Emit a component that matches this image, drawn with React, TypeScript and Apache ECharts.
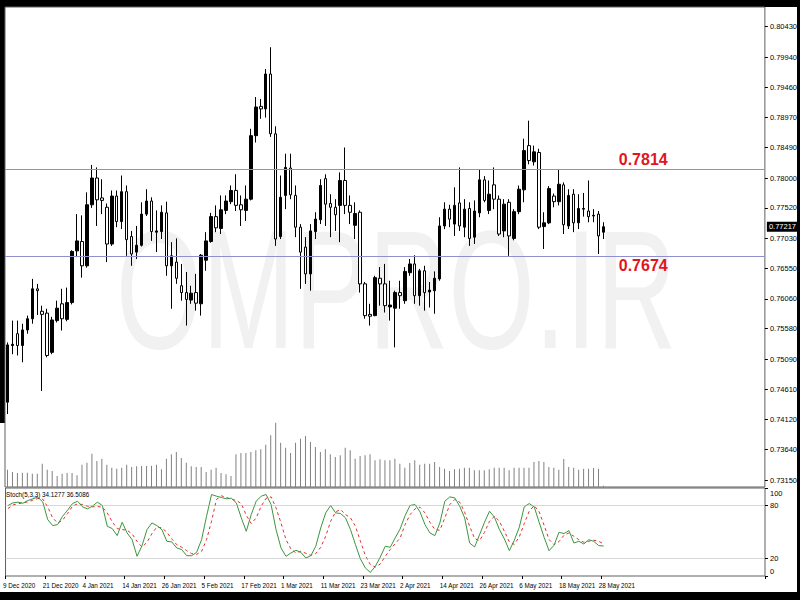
import React, { useEffect, useRef } from "react";
import * as echarts from "echarts";

const decDays = [9, 10, 11, 14, 15, 16, 17, 18, 21, 22, 23, 24, 28, 29, 30, 31];
const janDays = [4, 5, 6, 7, 8, 11, 12, 13, 14, 15, 18, 19, 20, 21, 22, 25, 26, 27, 28, 29];
const febDays = [1, 2, 3, 4, 5, 8, 9, 10, 11, 12, 15, 16, 17, 18, 19, 22, 23, 24, 25, 26];
const marDays = [1, 2, 3, 4, 5, 8, 9, 10, 11, 12, 15, 16, 17, 18, 19, 22, 23, 24, 25, 26, 29, 30, 31];
const aprDays = [1, 2, 5, 6, 7, 8, 9, 12, 13, 14, 15, 16, 19, 20, 21, 22, 23, 26, 27, 28, 29, 30];
const mayDays = [3, 4, 5, 6, 7, 10, 11, 12, 13, 14, 17, 18, 19, 20, 21, 24, 25, 26, 27, 28];

const dates: string[] = [
  ...decDays.map((d) => `${d} Dec 2020`),
  ...janDays.map((d) => `${d} Jan 2021`),
  ...febDays.map((d) => `${d} Feb 2021`),
  ...marDays.map((d) => `${d} Mar 2021`),
  ...aprDays.map((d) => `${d} Apr 2021`),
  ...mayDays.map((d) => `${d} May 2021`),
];

const open = [
  0.744, 0.7531, 0.755, 0.7531, 0.7556, 0.7574, 0.7622, 0.7586, 0.7583, 0.752,
  0.7571, 0.7598, 0.7573, 0.76, 0.7683, 0.7698, 0.7659, 0.7757, 0.78, 0.7768,
  0.7753, 0.7694, 0.7771, 0.773, 0.7778, 0.7706, 0.7681, 0.7692, 0.7742, 0.7763,
  0.7713, 0.7714, 0.7744, 0.7659, 0.7665, 0.7627, 0.7616, 0.7604, 0.7616, 0.7598,
  0.7668, 0.7698, 0.7738, 0.7719, 0.7748, 0.7762, 0.778, 0.7757, 0.7748, 0.7766,
  0.7868, 0.7915, 0.7911, 0.7967, 0.7871, 0.7706, 0.7772, 0.7816, 0.7772, 0.7721,
  0.7689, 0.7646, 0.7714, 0.7733, 0.7799, 0.7759, 0.7753, 0.7756, 0.7796, 0.7756,
  0.7724, 0.7745, 0.763, 0.7581, 0.7579, 0.7639, 0.763, 0.7593, 0.7591, 0.7616,
  0.7603, 0.7648, 0.7662, 0.7611, 0.7651, 0.7617, 0.7619, 0.7638, 0.7723, 0.775,
  0.7726, 0.776, 0.7721, 0.7751, 0.7705, 0.7744, 0.7797, 0.7748, 0.7789, 0.7766,
  0.7715, 0.7761, 0.7703, 0.7746, 0.7781, 0.7852, 0.7826, 0.7841, 0.7722, 0.7728,
  0.7771, 0.7762, 0.7789, 0.7723, 0.7774, 0.7728, 0.775, 0.7747, 0.7739, 0.7742,
  0.7713,
];
const high = [
  0.7536, 0.7571, 0.7571, 0.7566, 0.7579, 0.7638, 0.763, 0.7595, 0.759, 0.7577,
  0.7603, 0.7622, 0.7624, 0.7684, 0.7742, 0.774, 0.7777, 0.7821, 0.7817, 0.7798,
  0.7759, 0.778, 0.778, 0.7804, 0.7788, 0.7715, 0.7723, 0.7761, 0.7782, 0.7769,
  0.7748, 0.7756, 0.7762, 0.7697, 0.7703, 0.7662, 0.7649, 0.7627, 0.7646, 0.7678,
  0.7713, 0.7744, 0.7756, 0.7772, 0.7772, 0.7788, 0.7806, 0.7772, 0.7788, 0.7879,
  0.793, 0.7927, 0.7975, 0.801, 0.7883, 0.7804, 0.7839, 0.7839, 0.7788, 0.7726,
  0.7705, 0.7726, 0.7745, 0.7798, 0.7806, 0.7774, 0.7766, 0.7809, 0.7849, 0.7772,
  0.7761, 0.7748, 0.7633, 0.7598, 0.7643, 0.7657, 0.7662, 0.7635, 0.7619, 0.7635,
  0.7657, 0.767, 0.7676, 0.7654, 0.7659, 0.7633, 0.765, 0.7737, 0.7761, 0.7757,
  0.7785, 0.7817, 0.7766, 0.7761, 0.7764, 0.7814, 0.7803, 0.7796, 0.7817, 0.7772,
  0.7766, 0.7766, 0.775, 0.7788, 0.7863, 0.7892, 0.7852, 0.7847, 0.7745, 0.7787,
  0.7775, 0.7813, 0.7793, 0.7782, 0.7782, 0.7774, 0.7776, 0.7796, 0.775, 0.7747,
  0.7729,
];
const low = [
  0.7421, 0.7517, 0.7515, 0.7504, 0.755, 0.7566, 0.758, 0.7458, 0.7512, 0.7517,
  0.7568, 0.7555, 0.757, 0.7597, 0.7673, 0.764, 0.7656, 0.7752, 0.7723, 0.7742,
  0.7665, 0.7691, 0.7721, 0.7718, 0.7675, 0.7659, 0.767, 0.769, 0.7739, 0.7699,
  0.7681, 0.7702, 0.7643, 0.759, 0.763, 0.7603, 0.7563, 0.7598, 0.7587, 0.7579,
  0.7651, 0.7696, 0.7713, 0.771, 0.7742, 0.7758, 0.7747, 0.7723, 0.7731, 0.7764,
  0.7857, 0.7895, 0.7897, 0.7866, 0.7691, 0.7702, 0.775, 0.7766, 0.7705, 0.7622,
  0.763, 0.7619, 0.7702, 0.7726, 0.7723, 0.7705, 0.7715, 0.7697, 0.7742, 0.7726,
  0.7702, 0.7616, 0.7574, 0.7563, 0.7578, 0.7595, 0.7584, 0.7571, 0.7528, 0.759,
  0.7598, 0.7643, 0.7598, 0.7595, 0.7587, 0.7592, 0.7582, 0.7635, 0.7718, 0.7721,
  0.7707, 0.7715, 0.7705, 0.7691, 0.7694, 0.7737, 0.7761, 0.7742, 0.775, 0.7707,
  0.7705, 0.7675, 0.77, 0.7742, 0.7761, 0.7822, 0.782, 0.7718, 0.7686, 0.7726,
  0.7753, 0.7756, 0.771, 0.7718, 0.7713, 0.7718, 0.7738, 0.7729, 0.7729, 0.7678,
  0.7702,
];
const close = [
  0.7532, 0.7533, 0.7531, 0.7556, 0.7574, 0.7622, 0.7619, 0.7581, 0.7515, 0.7572,
  0.7591, 0.7574, 0.76, 0.7682, 0.7699, 0.7659, 0.7757, 0.78, 0.7765, 0.7764,
  0.7694, 0.7771, 0.773, 0.7778, 0.7701, 0.7678, 0.7692, 0.7742, 0.7763, 0.7714,
  0.7715, 0.7745, 0.7659, 0.7675, 0.7639, 0.7616, 0.7605, 0.7615, 0.7599, 0.7676,
  0.7699, 0.7738, 0.772, 0.7749, 0.7763, 0.778, 0.7756, 0.7749, 0.7766, 0.7868,
  0.7914, 0.7911, 0.7967, 0.7871, 0.7702, 0.7769, 0.7817, 0.7773, 0.7721, 0.7681,
  0.7646, 0.7715, 0.7734, 0.7788, 0.7758, 0.7753, 0.7741, 0.7796, 0.7756, 0.7745,
  0.7743, 0.763, 0.7579, 0.7578, 0.764, 0.763, 0.7595, 0.7596, 0.7616, 0.7611,
  0.765, 0.7662, 0.7611, 0.7651, 0.7616, 0.762, 0.7639, 0.7723, 0.775, 0.7734,
  0.7756, 0.7723, 0.775, 0.7703, 0.7747, 0.7797, 0.7764, 0.7774, 0.7766, 0.771,
  0.7758, 0.7707, 0.7746, 0.7782, 0.7844, 0.7828, 0.7842, 0.7721, 0.7728, 0.7783,
  0.7762, 0.779, 0.7725, 0.7772, 0.7728, 0.7751, 0.7751, 0.7738, 0.774, 0.7707,
  0.77217,
];
const volume = [
  52000, 45000, 42000, 43000, 43000, 40000, 40000, 70000, 52000, 48000,
  33000, 40000, 42000, 42000, 35000, 67000, 73000, 100000, 78000, 85000,
  67000, 58000, 55000, 58000, 67000, 60000, 62000, 63000, 63000, 64000,
  67000, 53000, 85000, 98000, 105000, 87000, 73000, 62000, 60000, 60000,
  45000, 52000, 58000, 42000, 38000, 33000, 98000, 102000, 102000, 105000,
  110000, 113000, 127000, 155000, 193000, 133000, 118000, 102000, 133000, 145000,
  153000, 135000, 120000, 105000, 113000, 98000, 90000, 95000, 118000, 110000,
  85000, 93000, 95000, 98000, 80000, 83000, 80000, 80000, 85000, 70000,
  58000, 72000, 80000, 67000, 70000, 70000, 75000, 60000, 55000, 48000,
  53000, 55000, 58000, 58000, 50000, 50000, 50000, 53000, 58000, 58000,
  58000, 50000, 58000, 58000, 58000, 58000, 75000, 78000, 75000, 60000,
  58000, 52000, 84000, 60000, 58000, 52000, 55000, 55000, 57000, 55000,
  4000,
];
const stochMain = [
  80.1, 83.1, 83.9, 82.7, 85.8, 87.7, 89.6, 84.2, 64.1, 57.3,
  58.4, 67.9, 74.7, 82.3, 85.0, 78.6, 76.3, 79.3, 83.9, 80.1,
  56.5, 53.9, 45.9, 61.1, 48.9, 41.3, 22.4, 34.5, 52.7, 60.3,
  57.3, 52.7, 39.4, 38.7, 31.9, 30.0, 23.1, 23.1, 26.9, 41.3,
  67.9, 92.6, 90.7, 89.2, 87.7, 88.4, 83.1, 66.0, 50.8, 69.8,
  85.0, 90.7, 92.6, 81.2, 52.7, 31.9, 22.4, 26.2, 29.2, 26.9,
  20.5, 23.1, 33.8, 54.6, 71.7, 80.1, 71.7, 71.0, 66.0, 52.7,
  35.6, 19.3, 9.1, 4.1, 11.0, 21.6, 33.8, 32.6, 43.3, 53.5,
  68.7, 80.1, 81.2, 72.9, 58.4, 48.9, 45.9, 60.3, 85.0, 89.9,
  88.8, 79.3, 66.0, 37.5, 33.0, 47.0, 61.1, 73.6, 66.8, 52.7,
  42.1, 28.8, 40.6, 55.4, 78.6, 82.3, 78.6, 61.1, 44.0, 28.8,
  34.9, 49.7, 48.2, 51.6, 37.5, 39.4, 36.4, 41.3, 39.4, 34.5,
  34.1277,
];
const stochSignal = [
  76.7, 80.8, 82.0, 83.1, 84.2, 86.1, 88.0, 87.3, 78.6, 66.0,
  60.3, 63.4, 71.0, 79.3, 82.0, 81.2, 79.3, 78.6, 78.9, 78.2,
  71.7, 61.5, 53.9, 52.7, 52.0, 47.8, 39.4, 33.0, 38.3, 48.2,
  55.8, 54.6, 49.7, 42.1, 35.6, 32.6, 28.8, 25.4, 24.6, 28.1,
  41.3, 62.2, 86.9, 91.1, 89.2, 87.3, 85.8, 82.3, 69.1, 59.6,
  66.0, 79.3, 88.4, 89.9, 77.4, 60.3, 41.3, 30.7, 26.2, 28.1,
  25.8, 23.5, 25.4, 32.6, 45.1, 62.2, 72.9, 75.5, 69.8, 66.0,
  56.5, 39.4, 23.1, 12.9, 10.2, 13.6, 22.4, 30.0, 36.8, 43.2,
  58.4, 69.8, 76.3, 78.2, 71.7, 61.1, 52.7, 52.0, 66.0, 81.2,
  86.9, 83.9, 72.5, 56.5, 42.5, 40.2, 49.7, 62.2, 67.9, 62.2,
  50.8, 38.7, 36.0, 44.4, 59.6, 73.6, 80.1, 72.9, 57.7, 41.3,
  35.6, 39.1, 46.3, 48.9, 45.1, 41.3, 38.3, 39.4, 40.6, 39.4,
  36.5086,
];
const priceTicks = [
  0.7315, 0.7364, 0.7412, 0.7461, 0.7509, 0.7558, 0.7606, 0.7655,
  0.7703, 0.7752, 0.78, 0.7849, 0.7897, 0.7946, 0.7994, 0.8043,
];
const stochTicks = [0, 20, 80, 100];
const stochLevels = [20, 80];
const levels = [0.7814, 0.7674];
const lastPrice = 0.77217;
const stochTitle = "Stoch(5,3,3) 34.1277 36.5086";
const watermark = "OMPRO.IR";
const PAD = 32;

const FONT = '"Liberation Sans", Arial, sans-serif';

export default function App() {
  const ref = useRef<HTMLDivElement>(null);
  useEffect(() => {
    if (!ref.current) return;
    const chart = echarts.init(ref.current, null, { renderer: "svg" });
    const cats = [...dates, ...Array.from({ length: PAD }, () => "")];
    const candles = dates.map((_, i) => [open[i], close[i], low[i], high[i]]);
    const labelIdx = (idx: number) => idx % 8 === 0 && idx < dates.length;
    const levelLabel = (v: number, dy: number) => ({
      coord: [128, v],
      label: {
        show: true,
        position: "inside",
        offset: [0, dy],
        formatter: v.toFixed(4),
        color: "#e0161e",
        fontWeight: "bold",
        fontSize: 16,
        fontFamily: FONT,
      },
    });
    const option: any = {
      animation: false,
      backgroundColor: "#000",
      title: {
        text: stochTitle,
        left: 6,
        top: 491,
        padding: 0,
        textStyle: { fontSize: 6.3, fontWeight: "normal", color: "#000", fontFamily: FONT },
      },
      graphic: [
        { type: "rect", z: -10, shape: { x: 5, y: 7, width: 792, height: 585 }, style: { fill: "#fff" } },
        { type: "rect", z: -10, shape: { x: 0, y: 423, width: 5, height: 169 }, style: { fill: "#fff" } },
        {
          type: "text",
          z: -5,
          x: 116,
          y: 290,
          scaleX: 0.66,
          style: {
            text: watermark,
            font: '168px "Liberation Sans", Arial, sans-serif',
            fill: "#f1f1f1",
            textAlign: "left",
            textVerticalAlign: "middle",
            verticalAlign: "middle",
          },
        },
      ],
      grid: [
        { left: 5, top: 7, width: 760, height: 480, show: true, borderColor: "#606060", borderWidth: 1 },
        { left: 5, top: 488, width: 760, height: 88, show: true, borderColor: "#606060", borderWidth: 1 },
      ],
      xAxis: [
        {
          type: "category",
          gridIndex: 0,
          data: cats,
          boundaryGap: true,
          axisLine: { show: false },
          axisTick: { show: false },
          axisLabel: { show: false },
          splitLine: { show: false },
        },
        {
          type: "category",
          gridIndex: 1,
          data: cats,
          boundaryGap: true,
          axisLine: { show: false },
          axisTick: { show: true, interval: labelIdx, length: 3, lineStyle: { color: "#000" } },
          axisLabel: {
            interval: labelIdx,
            align: "left",
            padding: [0, 0, 0, -5],
            fontSize: 6.3,
            color: "#000",
            fontFamily: FONT,
            margin: 6,
            hideOverlap: false,
          },
          splitLine: { show: false },
        },
      ],
      yAxis: [
        {
          type: "value",
          gridIndex: 0,
          position: "right",
          min: 0.73038,
          max: 0.80746,
          splitLine: { show: false },
          axisLine: { show: false },
          axisTick: { show: true, customValues: priceTicks, length: 3, lineStyle: { color: "#000" } },
          axisLabel: {
            customValues: priceTicks,
            formatter: (v: number) => v.toFixed(5),
            fontSize: 7.5,
            color: "#000",
            fontFamily: FONT,
            margin: 5,
            hideOverlap: false,
          },
        },
        {
          type: "value",
          gridIndex: 0,
          min: 0,
          max: 1440000,
          show: false,
          splitLine: { show: false },
        },
        {
          type: "value",
          gridIndex: 1,
          position: "right",
          min: 0,
          max: 100,
          splitLine: { show: false },
          axisLine: { show: false },
          axisTick: { show: true, customValues: stochTicks, length: 3, lineStyle: { color: "#000" } },
          axisLabel: {
            customValues: stochTicks,
            showMinLabel: true,
            showMaxLabel: true,
            hideOverlap: false,
            formatter: (v: number) => (v === 100 ? "{t|100}" : v === 0 ? "{b|0}" : "{m|" + v + "}"),
            fontSize: 7.5,
            color: "#000",
            fontFamily: FONT,
            margin: 5,
            rich: {
              t: { padding: [10, 0, 0, 0], fontSize: 7.5, fontFamily: FONT, color: "#000" },
              b: { padding: [0, 0, 10, 0], fontSize: 7.5, fontFamily: FONT, color: "#000" },
              m: { fontSize: 7.5, fontFamily: FONT, color: "#000" },
            },
          },
        },
      ],
      series: [
        {
          type: "bar",
          name: "Volume",
          xAxisIndex: 0,
          yAxisIndex: 1,
          data: volume,
          barWidth: 1,
          itemStyle: { color: "#808080" },
          z: 2,
        },
        {
          type: "candlestick",
          name: "Price",
          xAxisIndex: 0,
          yAxisIndex: 0,
          data: candles,
          barWidth: 3,
          itemStyle: {
            color: "#000",
            color0: "#fff",
            borderColor: "#000",
            borderColor0: "#000",
            borderWidth: 1,
          },
          z: 3,
          markPoint: {
            silent: true,
            symbol: "circle",
            symbolSize: 1,
            itemStyle: { color: "rgba(0,0,0,0)" },
            data: [levelLabel(levels[0], -10), levelLabel(levels[1], 9)],
          },
        },
        {
          type: "line",
          name: "Levels",
          xAxisIndex: 0,
          yAxisIndex: 0,
          data: [],
          symbol: "none",
          z: 3,
          markLine: {
            silent: true,
            precision: 5,
            symbol: ["none", "none"],
            data: [
              { yAxis: levels[0], lineStyle: { color: "#8f8fcf", width: 1, type: "solid" }, label: { show: false } },
              { yAxis: levels[1], lineStyle: { color: "#8f8fcf", width: 1, type: "solid" }, label: { show: false } },
              {
                yAxis: lastPrice,
                lineStyle: { color: "rgba(0,0,0,0)", width: 1 },
                label: {
                  show: true,
                  position: "end",
                  formatter: lastPrice.toFixed(5),
                  color: "#fff",
                  backgroundColor: "#000",
                  padding: [1, 2, 1, 2],
                  fontSize: 7.5,
                  fontFamily: FONT,
                  distance: 2,
                },
              },
            ],
          },
        },
        {
          type: "line",
          name: "Main",
          xAxisIndex: 1,
          yAxisIndex: 2,
          data: stochMain,
          symbol: "none",
          lineStyle: { color: "#3c963c", width: 1 },
          z: 4,
          markLine: {
            silent: true,
            precision: 2,
            symbol: ["none", "none"],
            label: { show: false },
            lineStyle: { color: "#b0b0b0", type: "dotted", width: 1 },
            data: stochLevels.map((v) => ({ yAxis: v })),
          },
        },
        {
          type: "line",
          name: "Signal",
          xAxisIndex: 1,
          yAxisIndex: 2,
          data: stochSignal,
          symbol: "none",
          lineStyle: { color: "#e03030", width: 1, type: [3, 3] },
          z: 3,
        },
      ],
    };
    chart.setOption(option);
    return () => chart.dispose();
  }, []);
  return <div ref={ref} style={{ position: "fixed", left: 0, top: 0, width: 800, height: 600 }} />;
}
